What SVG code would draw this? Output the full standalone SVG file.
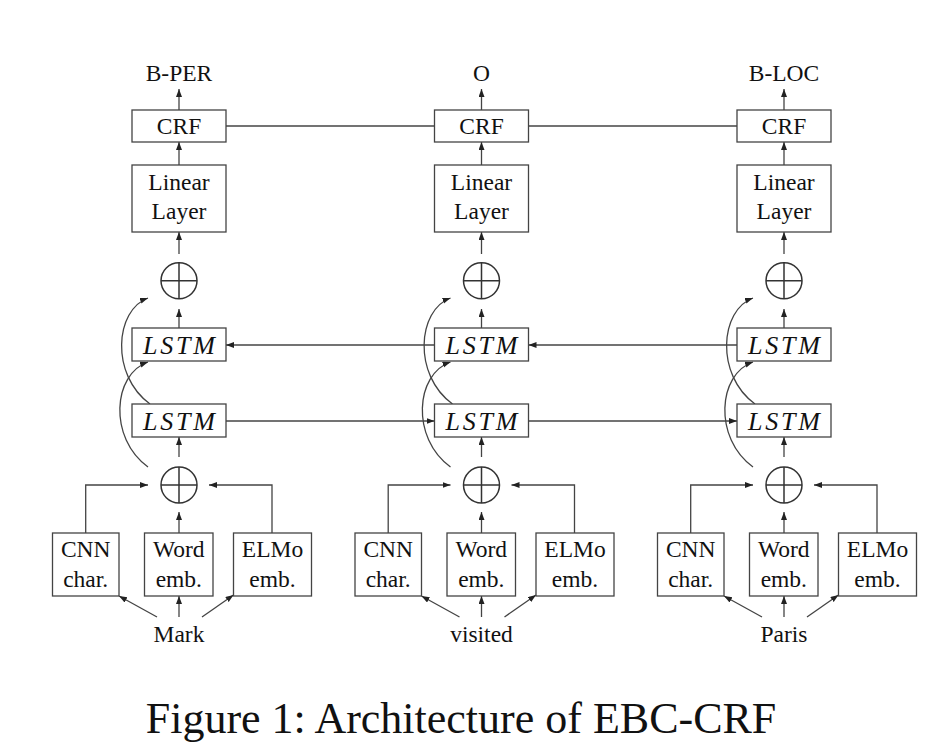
<svg xmlns="http://www.w3.org/2000/svg" width="930" height="744" viewBox="0 0 930 744">
<defs>
<marker id="ah" markerUnits="userSpaceOnUse" markerWidth="9" markerHeight="7" refX="8" refY="3" orient="auto">
<path d="M0,0 L8,3 L0,6 z" fill="#222"/>
</marker>
<style>
text{font-family:"Liberation Serif","Times New Roman",serif;font-size:23.5px;fill:#111;text-anchor:middle}
.box{fill:#fff;stroke:#444;stroke-width:1.3}
.sum circle{fill:none;stroke:#333;stroke-width:1.5}
.sum path{stroke:#333;stroke-width:1.5;fill:none}
.lstm{font-style:italic;font-size:26px}
#connectors path{fill:none;stroke:#444;stroke-width:1.3}
#connectors .a{marker-end:url(#ah)}
.cap{font-size:44px}
</style>
</defs>
<rect width="930" height="744" fill="#fff"/>

<g id="connectors">
<!-- column 1 cx=179 -->
<path class="a" d="M179 110V89"/>
<path class="a" d="M179 165V142"/>
<path class="a" d="M179 254V232"/>
<path class="a" d="M179 328V309"/>
<path class="a" d="M179 457V437"/>
<path class="a" d="M179 533V512"/>
<path class="a" d="M85.7 533V485H148"/>
<path class="a" d="M272 533V485H209"/>
<path class="a" d="M157 617L119 596"/>
<path class="a" d="M179 617V596"/>
<path class="a" d="M202 617L233.5 595"/>
<path class="a" d="M150 404C110 375 115 310 148 298"/>
<path class="a" d="M148 467C108 438 113 374 148 362"/>
<!-- column 2 cx=481.5 -->
<path class="a" d="M481.5 110V89"/>
<path class="a" d="M481.5 165V142"/>
<path class="a" d="M481.5 254V232"/>
<path class="a" d="M481.5 328V309"/>
<path class="a" d="M481.5 457V437"/>
<path class="a" d="M481.5 533V512"/>
<path class="a" d="M388.2 533V485H450.5"/>
<path class="a" d="M574.5 533V485H511.5"/>
<path class="a" d="M459.5 617L421.5 596"/>
<path class="a" d="M481.5 617V596"/>
<path class="a" d="M504.5 617L536 595"/>
<path class="a" d="M452.5 404C412.5 375 417.5 310 450.5 298"/>
<path class="a" d="M450.5 467C410.5 438 415.5 374 450.5 362"/>
<!-- column 3 cx=784 -->
<path class="a" d="M784 110V89"/>
<path class="a" d="M784 165V142"/>
<path class="a" d="M784 254V232"/>
<path class="a" d="M784 328V309"/>
<path class="a" d="M784 457V437"/>
<path class="a" d="M784 533V512"/>
<path class="a" d="M690.7 533V485H753"/>
<path class="a" d="M877 533V485H814"/>
<path class="a" d="M762 617L724 596"/>
<path class="a" d="M784 617V596"/>
<path class="a" d="M807 617L838.5 595"/>
<path class="a" d="M755 404C715 375 720 310 753 298"/>
<path class="a" d="M753 467C713 438 718 374 753 362"/>
<!-- horizontal -->
<path d="M226 126H434.5"/>
<path d="M528.5 126H737"/>
<path class="a" d="M434.5 345H226"/>
<path class="a" d="M737 345H528.5"/>
<path class="a" d="M226 421H434.5"/>
<path class="a" d="M528.5 421H737"/>
</g>

<!-- column 1 -->
<g id="out1"><text x="179" y="81">B-PER</text></g>
<g id="crf1"><rect class="box" x="132" y="110" width="94" height="32"/><text x="179" y="134">CRF</text></g>
<g id="linear1"><rect class="box" x="132" y="165" width="94" height="67"/><text x="179" y="189.5">Linear</text><text x="179" y="218.5">Layer</text></g>
<g id="sumtop1" class="sum"><circle cx="179" cy="280.7" r="18"/><path d="M161 280.7H197M179 262.7V298.7"/></g>
<g id="lstmup1"><rect class="box" x="132" y="328" width="94" height="33"/><text class="lstm" x="179" y="354" textLength="72" lengthAdjust="spacing">LSTM</text></g>
<g id="lstmlo1"><rect class="box" x="132" y="404" width="94" height="33"/><text class="lstm" x="179" y="430" textLength="72" lengthAdjust="spacing">LSTM</text></g>
<g id="sumlo1" class="sum"><circle cx="179" cy="485" r="18"/><path d="M161 485H197M179 467V503"/></g>
<g id="cnn1"><rect class="box" x="52.5" y="533" width="66.5" height="63"/><text x="85.7" y="557.3">CNN</text><text x="85.7" y="586.7">char.</text></g>
<g id="word1"><rect class="box" x="144.5" y="533" width="68.5" height="63"/><text x="178.8" y="557.3">Word</text><text x="178.8" y="586.7">emb.</text></g>
<g id="elmo1"><rect class="box" x="233.5" y="533" width="78" height="63"/><text x="272.5" y="557.3">ELMo</text><text x="272.5" y="586.7">emb.</text></g>
<g id="in1"><text x="179" y="641.7">Mark</text></g>

<!-- column 2 -->
<g id="out2"><text x="481.5" y="81">O</text></g>
<g id="crf2"><rect class="box" x="434.5" y="110" width="94" height="32"/><text x="481.5" y="134">CRF</text></g>
<g id="linear2"><rect class="box" x="434.5" y="165" width="94" height="67"/><text x="481.5" y="189.5">Linear</text><text x="481.5" y="218.5">Layer</text></g>
<g id="sumtop2" class="sum"><circle cx="481.5" cy="280.7" r="18"/><path d="M463.5 280.7H499.5M481.5 262.7V298.7"/></g>
<g id="lstmup2"><rect class="box" x="434.5" y="328" width="94" height="33"/><text class="lstm" x="481.5" y="354" textLength="72" lengthAdjust="spacing">LSTM</text></g>
<g id="lstmlo2"><rect class="box" x="434.5" y="404" width="94" height="33"/><text class="lstm" x="481.5" y="430" textLength="72" lengthAdjust="spacing">LSTM</text></g>
<g id="sumlo2" class="sum"><circle cx="481.5" cy="485" r="18"/><path d="M463.5 485H499.5M481.5 467V503"/></g>
<g id="cnn2"><rect class="box" x="355" y="533" width="66.5" height="63"/><text x="388.2" y="557.3">CNN</text><text x="388.2" y="586.7">char.</text></g>
<g id="word2"><rect class="box" x="447" y="533" width="68.5" height="63"/><text x="481.3" y="557.3">Word</text><text x="481.3" y="586.7">emb.</text></g>
<g id="elmo2"><rect class="box" x="536" y="533" width="78" height="63"/><text x="575" y="557.3">ELMo</text><text x="575" y="586.7">emb.</text></g>
<g id="in2"><text x="481.5" y="641.7">visited</text></g>

<!-- column 3 -->
<g id="out3"><text x="784" y="81">B-LOC</text></g>
<g id="crf3"><rect class="box" x="737" y="110" width="94" height="32"/><text x="784" y="134">CRF</text></g>
<g id="linear3"><rect class="box" x="737" y="165" width="94" height="67"/><text x="784" y="189.5">Linear</text><text x="784" y="218.5">Layer</text></g>
<g id="sumtop3" class="sum"><circle cx="784" cy="280.7" r="18"/><path d="M766 280.7H802M784 262.7V298.7"/></g>
<g id="lstmup3"><rect class="box" x="737" y="328" width="94" height="33"/><text class="lstm" x="784" y="354" textLength="72" lengthAdjust="spacing">LSTM</text></g>
<g id="lstmlo3"><rect class="box" x="737" y="404" width="94" height="33"/><text class="lstm" x="784" y="430" textLength="72" lengthAdjust="spacing">LSTM</text></g>
<g id="sumlo3" class="sum"><circle cx="784" cy="485" r="18"/><path d="M766 485H802M784 467V503"/></g>
<g id="cnn3"><rect class="box" x="657.5" y="533" width="66.5" height="63"/><text x="690.7" y="557.3">CNN</text><text x="690.7" y="586.7">char.</text></g>
<g id="word3"><rect class="box" x="749.5" y="533" width="68.5" height="63"/><text x="783.8" y="557.3">Word</text><text x="783.8" y="586.7">emb.</text></g>
<g id="elmo3"><rect class="box" x="838.5" y="533" width="78" height="63"/><text x="877.5" y="557.3">ELMo</text><text x="877.5" y="586.7">emb.</text></g>
<g id="in3"><text x="784" y="641.7">Paris</text></g>

<g id="caption"><text class="cap" x="461" y="733">Figure 1: Architecture of EBC-CRF</text></g>
</svg>
